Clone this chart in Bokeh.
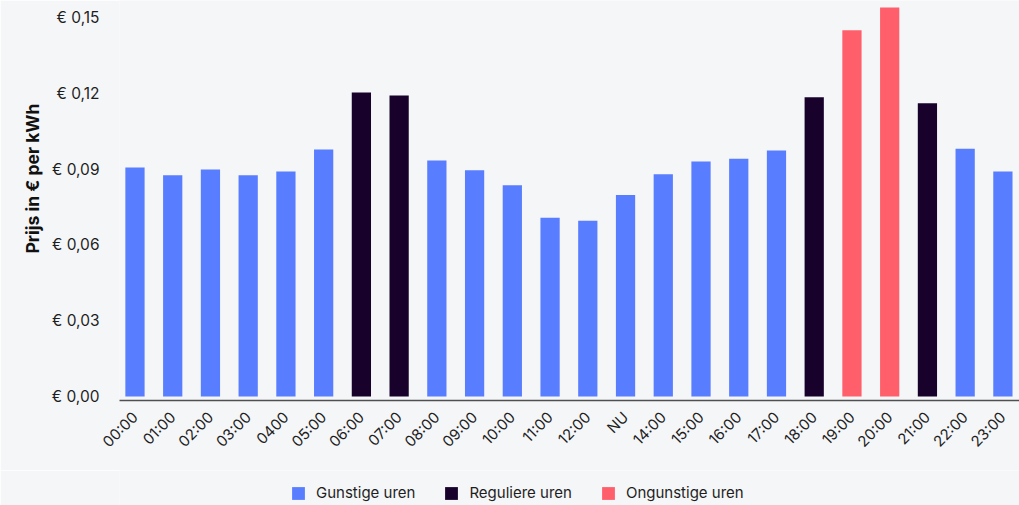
import math
from bokeh.plotting import figure
from bokeh.layouts import column
from bokeh.models import (ColumnDataSource, FixedTicker, Legend, LegendItem, Range1d, Title)
from bokeh.embed import file_html
from bokeh.resources import INLINE

hours = ["00:00", "01:00", "02:00", "03:00", "0400", "05:00", "06:00", "07:00",
         "08:00", "09:00", "10:00", "11:00", "12:00", "NU", "14:00", "15:00",
         "16:00", "17:00", "18:00", "19:00", "20:00", "21:00", "22:00", "23:00"]
prices = [0.0906, 0.0875, 0.0898, 0.0875, 0.0890, 0.0977, 0.1203, 0.1191,
          0.0934, 0.0895, 0.0836, 0.0707, 0.0695, 0.0797, 0.0879, 0.0930,
          0.0941, 0.0973, 0.1184, 0.1449, 0.1539, 0.1160, 0.0980, 0.0890]
kinds = ["Gunstige uren"] * 6 + ["Reguliere uren"] * 2 + ["Gunstige uren"] * 10 + \
        ["Reguliere uren"] + ["Ongunstige uren"] * 2 + ["Reguliere uren"] + ["Gunstige uren"] * 2
categories = ["Gunstige uren", "Reguliere uren", "Ongunstige uren"]
colors = ["#587dff", "#18022b", "#ff5f6b"]
y_ticks = [0.0, 0.03, 0.06, 0.09, 0.12, 0.15]
y_tick_labels = ["€ 0,00", "€ 0,03", "€ 0,06", "€ 0,09", "€ 0,12", "€ 0,15"]
y_title = "Prijs in € per kWh"

FONT = "Inter"
BG = "#f5f6f8"
TXT = "#1e1e1e"

p = figure(width=1019, height=470, output_backend="svg", toolbar_location=None,
           x_range=Range1d(-0.41, 23.44), y_range=Range1d(-0.0016, 0.1567),
           min_border_left=119, min_border_right=0, min_border_top=0, min_border_bottom=70,
           background_fill_color=BG, border_fill_color=BG, outline_line_color=None)

p.xgrid.visible = False
p.ygrid.visible = False

sources = []
for cat, col in zip(categories, colors):
    xs = [i for i, k in enumerate(kinds) if k == cat]
    ys = [prices[i] for i in xs]
    src = ColumnDataSource(dict(x=xs, top=ys))
    sources.append(src)
    p.vbar(x="x", top="top", bottom=0, width=0.51, source=src,
           fill_color=col, line_color=None)

# x axis
p.xaxis.ticker = FixedTicker(ticks=list(range(len(hours))))
p.xaxis.major_label_overrides = {i: h for i, h in enumerate(hours)}
p.xaxis.major_label_orientation = math.pi / 4
p.xaxis.major_tick_line_color = None
p.xaxis.minor_tick_line_color = None
p.xaxis.axis_line_color = "#505050"
p.xaxis.axis_line_width = 1.5
p.xaxis.major_label_text_font = FONT
p.xaxis.major_label_text_font_size = "15px"
p.xaxis.major_label_text_color = TXT
p.xaxis.major_label_standoff = 8

# y axis
p.yaxis.ticker = FixedTicker(ticks=y_ticks)
p.yaxis.major_label_overrides = {t: l for t, l in zip(y_ticks, y_tick_labels)}
p.yaxis.major_tick_line_color = None
p.yaxis.minor_tick_line_color = None
p.yaxis.axis_line_color = None
p.yaxis.major_label_text_font = FONT
p.yaxis.major_label_text_font_size = "15.5px"
p.yaxis.major_label_text_color = TXT
p.yaxis.major_label_standoff = 14

title = Title(text=y_title, align="left", offset=147, vertical_align="middle",
              text_font=FONT, text_font_size="17.5px", text_font_style="bold",
              text_color="#111111")
p.add_layout(title, "left")

# legend strip (same data sources; the bars fall outside this strip's y range)
lf = figure(width=1019, height=35, output_backend="svg", toolbar_location=None,
            x_range=Range1d(-0.41, 23.44), y_range=Range1d(1, 2),
            x_axis_type=None, y_axis_type=None,
            min_border_left=119, min_border_right=0, min_border_top=0, min_border_bottom=0,
            background_fill_color=BG, border_fill_color=BG, outline_line_color=None)
lf.xgrid.visible = False
lf.ygrid.visible = False
items = []
for cat, col, src in zip(categories, colors, sources):
    r = lf.vbar(x="x", top="top", bottom=0, width=0.51, source=src,
                fill_color=col, line_color=None)
    items.append(LegendItem(label=cat, renderers=[r]))

legend = Legend(items=items, orientation="horizontal", location=(171, 3),
                glyph_width=16, glyph_height=16, label_height=16, label_standoff=10,
                spacing=28, padding=0, margin=0, border_line_color=None,
                background_fill_alpha=0, label_text_font=FONT,
                label_text_font_size="15px", label_text_color=TXT)
lf.add_layout(legend)

layout = column(p, lf, spacing=0)
open("out.html", "w").write(file_html(layout, INLINE))
